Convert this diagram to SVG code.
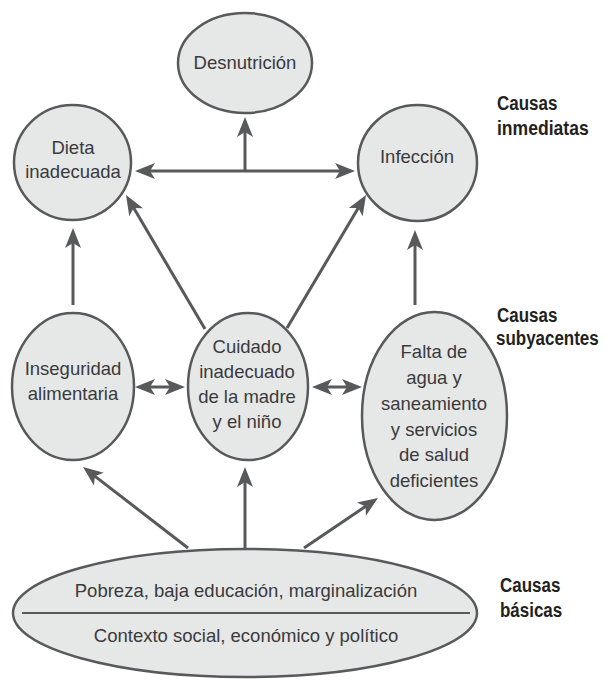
<svg xmlns="http://www.w3.org/2000/svg" width="608" height="691" viewBox="0 0 608 691">
  <style>
    .node { fill: #e6e7e7; stroke: #58595b; stroke-width: 2.5; }
    .t { font-family: "Liberation Sans", Arial, sans-serif; font-size: 18.5px; fill: #3a3a3c; text-anchor: middle; }
    .lbl { font-family: "Liberation Sans", Arial, sans-serif; font-size: 19.5px; font-weight: bold; fill: #231f20; }
    .conn { stroke: #58595b; stroke-width: 3; fill: none; }
  </style>
  <defs>
    <marker id="ah" markerUnits="userSpaceOnUse" markerWidth="24" markerHeight="20" refX="0" refY="0" orient="auto-start-reverse" overflow="visible">
      <path d="M10,0 L-10,-8 L-5,0 L-10,8 Z" fill="#58595b"/>
    </marker>
  </defs>
  <rect width="608" height="691" fill="#ffffff"/>

  <g id="connectors">
    <line class="conn" x1="145" y1="171" x2="345" y2="171" marker-start="url(#ah)" marker-end="url(#ah)"/>
    <line class="conn" x1="245" y1="171" x2="245" y2="127" marker-end="url(#ah)"/>
    <line class="conn" x1="73" y1="305" x2="73" y2="238" marker-end="url(#ah)"/>
    <line class="conn" x1="415" y1="305" x2="415" y2="240" marker-end="url(#ah)"/>
    <line class="conn" x1="205" y1="329" x2="131.1" y2="203.6" marker-end="url(#ah)"/>
    <line class="conn" x1="287" y1="328" x2="360.9" y2="203.6" marker-end="url(#ah)"/>
    <line class="conn" x1="145" y1="387" x2="175" y2="387" marker-start="url(#ah)" marker-end="url(#ah)"/>
    <line class="conn" x1="322" y1="387" x2="352" y2="387" marker-start="url(#ah)" marker-end="url(#ah)"/>
    <line class="conn" x1="188" y1="548" x2="90.9" y2="473.1" marker-end="url(#ah)"/>
    <line class="conn" x1="245" y1="548" x2="245" y2="477" marker-end="url(#ah)"/>
    <line class="conn" x1="304" y1="548" x2="369.7" y2="503.6" marker-end="url(#ah)"/>
  </g>

  <g id="desnutricion">
    <ellipse class="node" cx="245" cy="63" rx="67" ry="50"/>
    <text class="t" x="245" y="69">Desnutrición</text>
  </g>
  <g id="dieta">
    <ellipse class="node" cx="72.5" cy="162.5" rx="58.5" ry="57.5"/>
    <text class="t" x="73" y="154">Dieta</text>
    <text class="t" x="73" y="178">inadecuada</text>
  </g>
  <g id="infeccion">
    <ellipse class="node" cx="417.5" cy="163" rx="59.5" ry="58"/>
    <text class="t" x="417" y="163">Infección</text>
  </g>
  <g id="inseguridad">
    <ellipse class="node" cx="73" cy="386.5" rx="61" ry="73.5"/>
    <text class="t" x="73" y="375">Inseguridad</text>
    <text class="t" x="73" y="400">alimentaria</text>
  </g>
  <g id="cuidado">
    <ellipse class="node" cx="248" cy="386.5" rx="60" ry="73.5"/>
    <text class="t" x="247" y="353">Cuidado</text>
    <text class="t" x="247" y="378">inadecuado</text>
    <text class="t" x="247" y="403">de la madre</text>
    <text class="t" x="247" y="428">y el niño</text>
  </g>
  <g id="falta">
    <ellipse class="node" cx="434.5" cy="416" rx="72.5" ry="104"/>
    <text class="t" x="434" y="358">Falta de</text>
    <text class="t" x="434" y="384">agua y</text>
    <text class="t" x="434" y="410">saneamiento</text>
    <text class="t" x="434" y="436">y servicios</text>
    <text class="t" x="434" y="461">de salud</text>
    <text class="t" x="434" y="487">deficientes</text>
  </g>
  <g id="basicas">
    <ellipse class="node" cx="245" cy="613" rx="232" ry="64"/>
    <line x1="22" y1="613" x2="470" y2="613" stroke="#58595b" stroke-width="2"/>
    <text class="t" x="246" y="597">Pobreza, baja educación, marginalización</text>
    <text class="t" x="246" y="642">Contexto social, económico y político</text>
  </g>

  <g id="labels">
    <text class="lbl" transform="translate(497,110) scale(0.87,1)">Causas</text>
    <text class="lbl" transform="translate(497,135) scale(0.9,1)">inmediatas</text>
    <text class="lbl" transform="translate(497,322) scale(0.87,1)">Causas</text>
    <text class="lbl" transform="translate(496,345) scale(0.87,1)">subyacentes</text>
    <text class="lbl" transform="translate(500,592) scale(0.87,1)">Causas</text>
    <text class="lbl" transform="translate(500,617) scale(0.87,1)">básicas</text>
  </g>
</svg>
